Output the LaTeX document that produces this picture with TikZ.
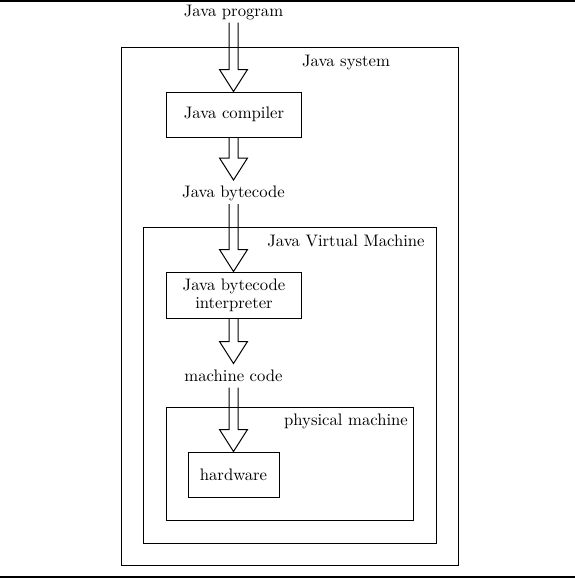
\documentclass[tikz,border=0pt]{standalone}
\usetikzlibrary{calc}
\tikzset{
  px/.style={x=0.6pt,y=-0.6pt},
  box/.style={draw,line width=0.6pt,inner sep=0pt},
  lbl/.style={inner xsep=0pt,inner ysep=2.3pt,text height=8pt,text depth=1.5pt,anchor=base},
  tag/.style={inner sep=0pt,anchor=base},
  blockarrow/.style={draw,line width=0.6pt,line join=miter},
  rule/.style={line width=1.2pt}
}
\newcommand\blockarrow[2]{%
  \draw[blockarrow] let \p1=(#1), \p2=(#2) in
    (\x1-2.7pt,\y1) -- (\x1-2.7pt,\y2+13.2pt) -- (\x1-8.4pt,\y2+13.2pt) -- (\x1,\y2)
    -- (\x1+8.4pt,\y2+13.2pt) -- (\x1+2.7pt,\y2+13.2pt) -- (\x1+2.7pt,\y1);}
\begin{document}
\begin{tikzpicture}[px]
\useasboundingbox (0,0) rectangle (575,578);
\draw[rule] (0,1) -- (575,1);
\draw[rule] (0,577) -- (575,577);

% nested systems
\node[box,minimum width=202.2pt,minimum height=310.8pt] (sys) at (289.5,306) {};
\node[tag] (systag) at (346,66) {Java system};
\node[box,minimum width=175.8pt,minimum height=189.6pt] (jvm) at (289.5,385) {};
\node[tag] (jvmtag) at (346,246) {Java Virtual Machine};
\node[box,minimum width=148.2pt,minimum height=67.8pt] (phys) at (289.5,463.5) {};
\node[tag] (phystag) at (346,425) {physical machine};

% labels
\node[lbl] (prog) at (233.5,16) {Java program};
\node[lbl] (bc) at (233.5,197.5) {Java bytecode};
\node[lbl] (mc) at (233.5,381) {machine code};

% boxes
\node[box,minimum width=81pt,minimum height=27pt] (comp) at (234,114.5) {Java compiler};
\node[box,minimum width=81pt,minimum height=27.6pt,align=center,font=\fontsize{10}{10.8}\selectfont] (interp) at (234,295) {Java bytecode\\interpreter};
\node[box,minimum width=54.6pt,minimum height=27pt] (hw) at (233.5,474.5) {hardware};

% arrows
\blockarrow{prog.south}{comp.north}
\blockarrow{bc.north |- comp.south}{bc.north}
\blockarrow{bc.south}{interp.north}
\blockarrow{mc.north |- interp.south}{mc.north}
\blockarrow{mc.south}{hw.north}
\end{tikzpicture}
\end{document}
